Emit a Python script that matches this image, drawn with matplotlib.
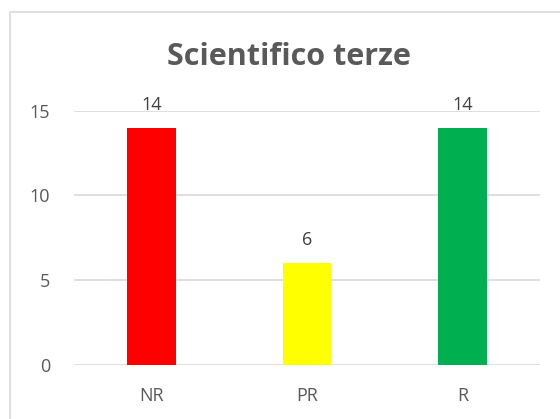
import matplotlib
matplotlib.use("Agg")
import matplotlib.pyplot as plt
from matplotlib.patches import Rectangle

# dati
categorie = ['NR', 'PR', 'R']
valori = [14, 6, 14]
colori = ['#FF0000', '#FFFF00', '#00B050']
titolo = 'Scientifico terze'

plt.rcParams['font.family'] = ['Open Sans', 'DejaVu Sans']

fig = plt.figure(figsize=(5.6, 4.19), dpi=100)
W, H = 560.0, 419.0
# area del grafico in pixel: x 74..540, y 111..365
ax = fig.add_axes([74 / W, 1 - 365 / H, (540 - 74) / W, (365 - 110.7) / H])

# bordo del grafico stile Excel
fig.patches.append(Rectangle((10 / W, -0.1), 1.1, 1 - 12 / H + 0.1,
                             transform=fig.transFigure, fill=False,
                             edgecolor='#d9d9d9', linewidth=1.2))

x = range(len(categorie))
barre = ax.bar(x, valori, width=0.315, color=colori, zorder=2)
for b, v in zip(barre, valori):
    ax.text(b.get_x() + b.get_width() / 2, v + 1.06, str(v), ha='center', va='baseline',
            fontsize=13, color='#404040')

ax.set_xlim(-0.5, 2.5)
ax.set_ylim(0, 15)
ax.set_yticks([0, 5, 10, 15])
ax.set_xticks(list(x))
ax.set_xticklabels(categorie)
ax.yaxis.grid(True, color='#d9d9d9', linewidth=1.2, zorder=0)
for s in ax.spines.values():
    s.set_visible(False)
ax.tick_params(axis='both', length=0, labelsize=13, labelcolor='#595959')
ax.tick_params(axis='y', pad=17)
ax.tick_params(axis='x', pad=16)

fig.text(289 / W, 1 - 57 / H, titolo, ha='center', va='center', fontsize=22,
         fontweight='bold', color='#595959')

fig.savefig('out.png', dpi=100)
